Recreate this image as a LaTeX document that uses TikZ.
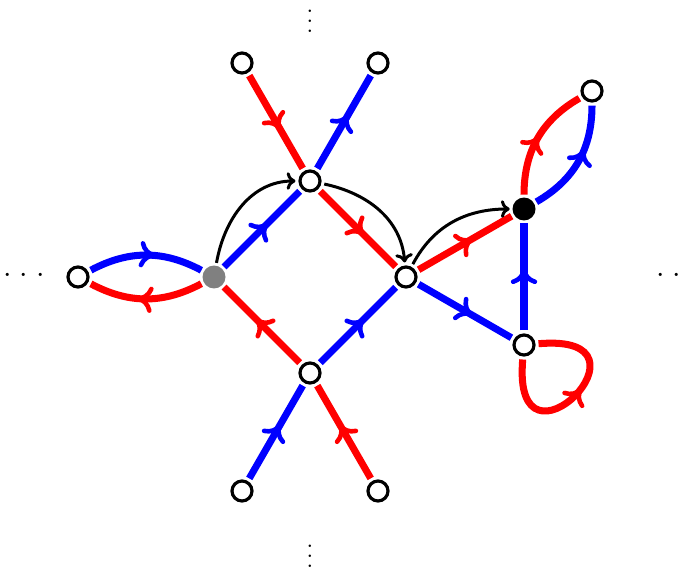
\documentclass[tikz,border=0pt]{standalone}
\usetikzlibrary{arrows.meta,decorations.markings}
\newcommand{\tallvdots}{\vbox{\baselineskip=5.8pt \lineskiplimit=0pt \hbox{\LARGE .}\hbox{\LARGE .}\hbox{\LARGE .}}}
\newcommand{\widecdots}{{\LARGE$\cdot$\hspace{4.6pt}$\cdot$\hspace{4.6pt}$\cdot$}}
\begin{document}
\begin{tikzpicture}[x=0.02cm, y=0.02cm,
  vtx/.style={circle, draw=black, line width=1.8pt, fill=white, inner sep=0pt,
              minimum size=0.4cm, outer sep=2.6pt},
  gvtx/.style={circle, fill=gray, inner sep=0pt, minimum size=0.46cm, outer sep=1.6pt},
  kvtx/.style={circle, fill=black, inner sep=0pt, minimum size=0.46cm, outer sep=1.6pt},
  edg/.style={line width=4pt},
  bedge/.style={edg, blue},
  redge/.style={edg, red},
  mida/.style={postaction={decorate, decoration={markings, mark=at position #1 with
      {\arrow{Computer Modern Rightarrow[length=9pt,width=15pt,line width=2.6pt]}}}}},
  mida/.default=0.58,
  jump/.style={-{Computer Modern Rightarrow[length=5pt,width=10pt]}, line width=1.7pt}
]
\useasboundingbox (0,0) rectangle (689,572);

\node[vtx] (lf) at (78,295) {};
\node[gvtx] (g) at (214,295) {};
\node[vtx] (t) at (310,391) {};
\node[vtx] (tl) at (242,509) {};
\node[vtx] (tr) at (378,509) {};
\node[vtx] (r) at (406,295) {};
\node[vtx] (b) at (310,199) {};
\node[vtx] (bl) at (242,81) {};
\node[vtx] (br) at (378,81) {};
\node[kvtx] (k) at (524,363) {};
\node[vtx] (p) at (592,481) {};
\node[vtx] (m) at (524,227) {};

\node (dtop) at (310,551) {\tallvdots};
\node (dbot) at (310,16) {\tallvdots};
\node (dlft) at (24,296) {\widecdots};
\node (drgt) at (677,296) {\widecdots};

\draw[bedge, mida] (lf) to[bend left=28] (g);
\draw[redge, mida] (g) to[bend left=28] (lf);
\draw[bedge, mida] (g) -- (t);
\draw[redge, mida] (tl) -- (t);
\draw[bedge, mida] (t) -- (tr);
\draw[redge, mida] (t) -- (r);
\draw[redge, mida] (b) -- (g);
\draw[bedge, mida] (b) -- (r);
\draw[bedge, mida] (bl) -- (b);
\draw[redge, mida] (br) -- (b);
\draw[redge, mida] (r) -- (k);
\draw[bedge, mida] (r) -- (m);
\draw[bedge, mida] (m) -- (k);
\draw[redge, mida=0.52] (k) to[out=90, in=210] (p);
\draw[bedge, mida=0.62] (k) to[out=30, in=270] (p);
\draw[redge, mida=0.55] (m) to[out=265, in=5, min distance=2.6cm] (m);

\draw[jump] (g) to[out=80, in=180] (t);
\draw[jump] (t) to[out=-12, in=95] (r);
\draw[jump] (r) to[out=62, in=180] (k);
\end{tikzpicture}
\end{document}
